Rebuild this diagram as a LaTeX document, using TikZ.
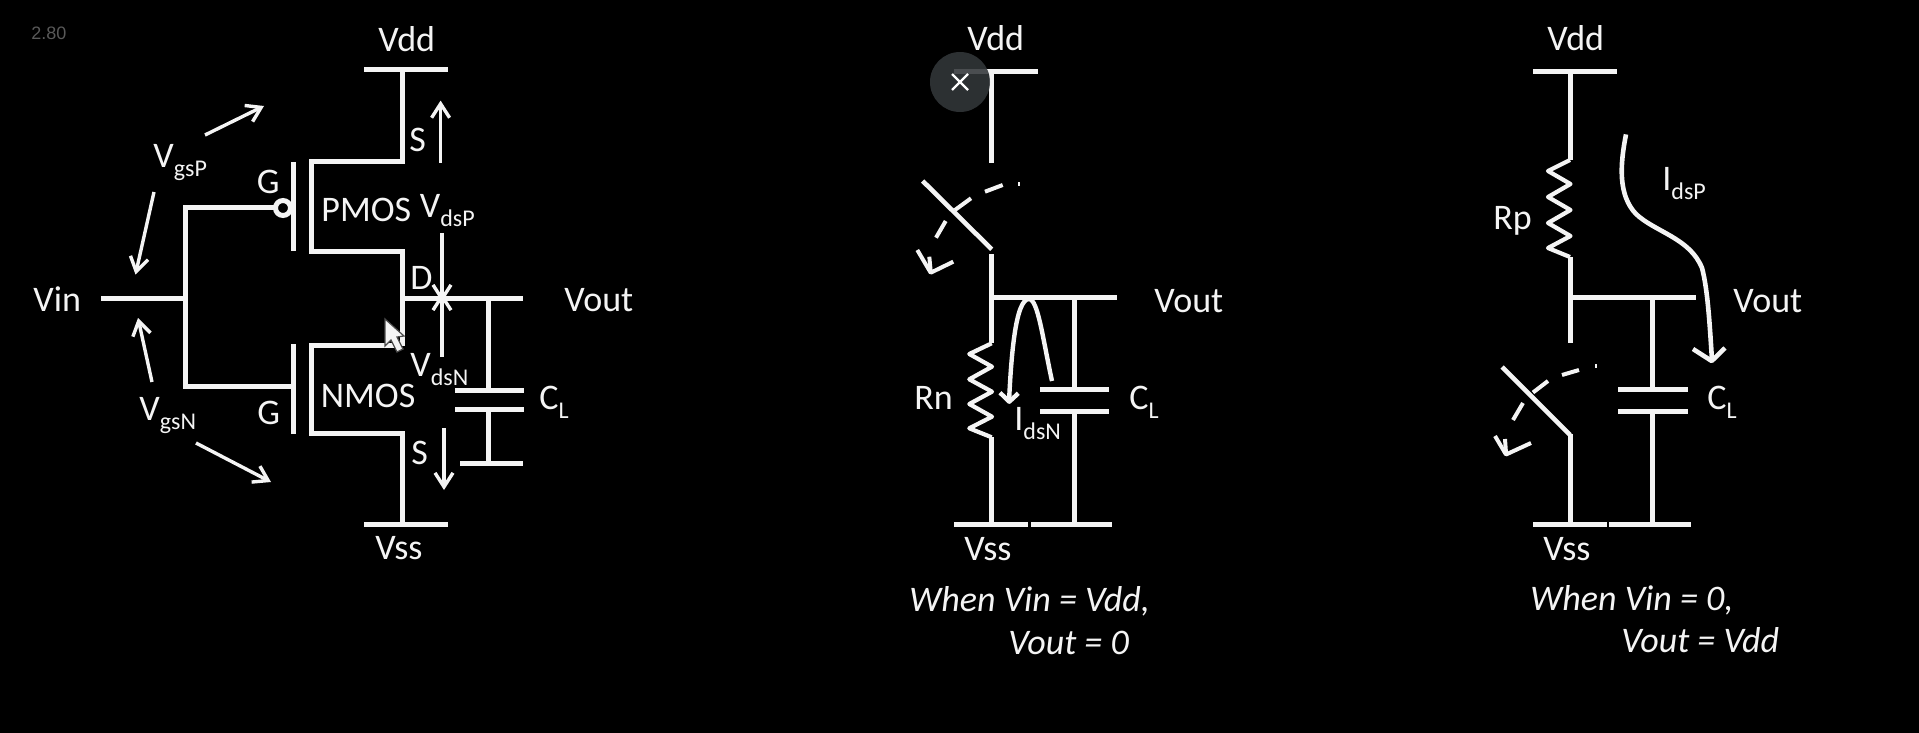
\documentclass[tikz,border=0pt]{standalone}
\usepackage{fontspec}
\setmainfont{Carlito}
\newfontfamily\verfont{Liberation Sans}
\usetikzlibrary{arrows.meta}
\newcommand{\lowsub}[1]{\raisebox{-0.25em}{\fontsize{12}{14}\selectfont #1}}
\definecolor{ink}{HTML}{F4F4F4}
\definecolor{closebg}{HTML}{33373A}
\tikzset{
  wire/.style={draw=ink,line width=2.5pt,line cap=butt,line join=miter},
  thin wire/.style={draw=ink,line width=2pt,line cap=butt,line join=round},
  zigzag wire/.style={draw=ink,line width=2.1pt,line cap=butt,line join=round},
  sense/.style={draw=ink,line width=1.7pt,-{Straight Barb[length=7pt,width=9pt,line width=1.7pt]}},
  lbl/.style={anchor=base west,inner sep=0pt,yshift=-1pt,text=ink,font=\fontsize{18}{20}\selectfont},
  ital/.style={lbl,font=\fontsize{18}{20}\selectfont\itshape},
}
\begin{document}
\begin{tikzpicture}[x=0.5pt,y=-0.5pt]
\path[fill=black,use as bounding box] (0,0) rectangle (1919,733);

% ---------- left circuit ----------
\node[anchor=base west,inner sep=0pt,text=black!65!white,font=\fontsize{9}{10}\selectfont\verfont] (ver) at (31,40) {2.80};
\coordinate (Ldd) at (402,70);
\coordinate (Lss) at (402,524);
\coordinate (Lout) at (402,298);
\draw[wire] (364,70) -- (448,70);
\draw[wire] (364,524) -- (448,524);
\draw[wire] (Ldd) -- (402,162) -- (311.5,162) -- (311.5,251.5) -- (402,251.5) -- (402,346);
\draw[wire] (402,345) -- (311.5,345) -- (311.5,433.6) -- (402,433.6) -- (Lss);
\draw[wire] (Lout) -- (523,298);
\draw[wire] (101,298) -- (185,298);
\draw[wire] (276,208) -- (185,208) -- (185,386) -- (293,386);
\draw[wire] (293,162) -- (293,251.5);
\draw[wire] (293,344) -- (293,433.6);
\draw[draw=ink,line width=2.5pt] (283,208) circle (7.5);
% output capacitor
\draw[wire] (488,298) -- (488,390);
\draw[wire] (455,390) -- (524,390);
\draw[wire] (455,409) -- (524,409);
\draw[wire] (488,409) -- (488,463);
\draw[wire] (460,463) -- (523,463);
% sense arrows
\draw[sense] (205,135) -- (264,106);
\draw[sense] (154,192) -- (135.5,274.5);
\draw[sense] (152,382) -- (138,318);
\draw[sense] (196,443) -- (271,482);
\draw[sense] (440.6,163) -- (440.6,100.6);
\draw[sense] (442,233) -- (442,302);
\draw[sense] (442,357) -- (442,293);
\draw[sense] (444,428) -- (444,490);
% cursor
\draw[draw=black!70,line width=0.6pt,fill=ink] (385,319) -- (385,346) -- (391,340) -- (397,352) -- (403,349) -- (397,337) -- (404,336) -- cycle;
% labels
\node[lbl] (vdd1) at (378,50) {Vdd};
\node[lbl] (vgsp) at (153,166) {V\lowsub{gsP}};
\node[lbl] (gp) at (256.5,192) {G};
\node[lbl] (pmos) at (321,219) {PMOS};
\node[lbl] (vdsp) at (419.5,216) {V\lowsub{dsP}};
\node[lbl] (sp) at (409,150) {S};
\node[lbl] (dd) at (410,287) {D};
\node[lbl] (vin) at (33,309) {Vin};
\node[lbl] (vout1) at (564,309) {Vout};
\node[lbl] (vdsn) at (410,374) {V\lowsub{dsN}};
\node[lbl] (vgsn) at (139,418) {V\lowsub{gsN}};
\node[lbl] (gn) at (257,422) {G};
\node[lbl] (nmos) at (320.5,405) {NMOS};
\node[lbl] (cl1) at (539,407) {C\lowsub{L}};
\node[lbl] (sn) at (411,462) {S};
\node[lbl] (vss1) at (375,557) {Vss};

% ---------- middle circuit ----------
\draw[wire] (954,71.5) -- (1038,71.5);
\draw[wire] (991.7,71.5) -- (991.7,162.6);
\draw[thin wire,line width=2.3pt] (922.7,181) -- (991.7,249.3);
\draw[wire] (991.7,254) -- (991.7,343.3);
\draw[wire] (989,297) -- (1117,297);
\draw[zigzag wire] (991.7,343.3) -- (969.3,354) -- (992,366.7) -- (969.3,379.3) -- (992,391.7) -- (969.3,404) -- (992,416.7) -- (969.3,428.3) -- (991.7,437.3);
\draw[wire] (991.7,437) -- (991.7,524);
\draw[wire] (954,524) -- (1028,524);
\draw[wire] (1031,524) -- (1112,524);
\draw[wire] (1074,297) -- (1074,389);
\draw[wire] (1040,389) -- (1109,389);
\draw[wire] (1040,411) -- (1109,411);
\draw[wire] (1074,411) -- (1074,524);
% dashed swing
\draw[thin wire] (1018,184) -- (1020,184);
\draw[thin wire] (985,191.7) -- (1002.7,185);
\draw[thin wire] (955,210) -- (971,198.3);
\draw[thin wire] (936,237.7) -- (945.7,221);
\draw[thin wire] (917.3,250) -- (930.7,272.7) -- (953.3,261.7);
\draw[thin wire] (929.3,256.7) -- (930.7,271.7);
% current arrow
\draw[thin wire,line width=2.2pt] (1052,381) .. controls (1043,340) and (1038,299) .. (1029,299) .. controls (1015,299) and (1011,360) .. (1009,402);
\draw[thin wire,line width=2.2pt] (1000,392.7) -- (1009.3,401.7) -- (1018.3,393.3);
% labels
\node[lbl] (vdd2) at (967,49) {Vdd};
\node[lbl] (vout2) at (1154,311) {Vout};
\node[lbl] (rn) at (914,407.6) {Rn};
\node[lbl] (cl2) at (1129,407.6) {C\lowsub{L}};
\node[lbl] (idsn) at (1014,428) {I\lowsub{dsN}};
\node[lbl] (vss2) at (964,558.5) {Vss};
\node[ital] (w1a) at (909,609) {When Vin = Vdd,};
\node[ital] (w1b) at (1008,652.6) {Vout = 0};
% close button
\fill[fill=closebg,fill opacity=0.88] (960,82) circle (30);
\draw[draw=white,line width=1.1pt] (952,74) -- (968,90) (952,90) -- (968,74);

% ---------- right circuit ----------
\draw[wire] (1533,71.5) -- (1617,71.5);
\draw[wire] (1570,71.5) -- (1570,160);
\draw[zigzag wire] (1570,160) -- (1548,171) -- (1570.5,184) -- (1548,197) -- (1570.5,210) -- (1548,223) -- (1570.5,236) -- (1548,248) -- (1570,257);
\draw[wire] (1570,257) -- (1570,342.6);
\draw[wire] (1568,297) -- (1696,297);
\draw[thin wire,line width=2.3pt] (1502,367) -- (1570,435);
\draw[wire] (1570,434) -- (1570,524);
\draw[wire] (1533,524) -- (1607,524);
\draw[wire] (1609,524) -- (1691,524);
\draw[wire] (1652.7,297) -- (1652.7,389);
\draw[wire] (1618,389) -- (1688,389);
\draw[wire] (1618,411) -- (1688,411);
\draw[wire] (1652.7,411) -- (1652.7,524);
% dashed swing
\draw[thin wire] (1595,366.4) -- (1597,366.4);
\draw[thin wire] (1562,375) -- (1579,370);
\draw[thin wire] (1533,392.5) -- (1548,381);
\draw[thin wire] (1513,420) -- (1523,403);
\draw[thin wire] (1495,436) -- (1506,454.5) -- (1531,443);
\draw[thin wire] (1505,439) -- (1506,453);
% current arrow
\draw[wire,line width=2.3pt] (1626,134.4) .. controls (1620,165) and (1618,195) .. (1636,214) .. controls (1655,232) and (1690,238) .. (1702,268) .. controls (1708,290) and (1710,330) .. (1712,360);
\draw[thin wire,line width=2.3pt] (1693,349) -- (1711.7,361) -- (1725,348);
% labels
\node[lbl] (vdd3) at (1547,49) {Vdd};
\node[lbl] (rp) at (1493,227.7) {Rp};
\node[lbl] (idsp) at (1662,189) {I\lowsub{dsP}};
\node[lbl] (vout3) at (1733,311) {Vout};
\node[lbl] (cl3) at (1707,407.6) {C\lowsub{L}};
\node[lbl] (vss3) at (1543,558.5) {Vss};
\node[ital] (w2a) at (1530,608) {When Vin = 0,};
\node[ital] (w2b) at (1621,650) {Vout = Vdd};
\end{tikzpicture}
\end{document}
